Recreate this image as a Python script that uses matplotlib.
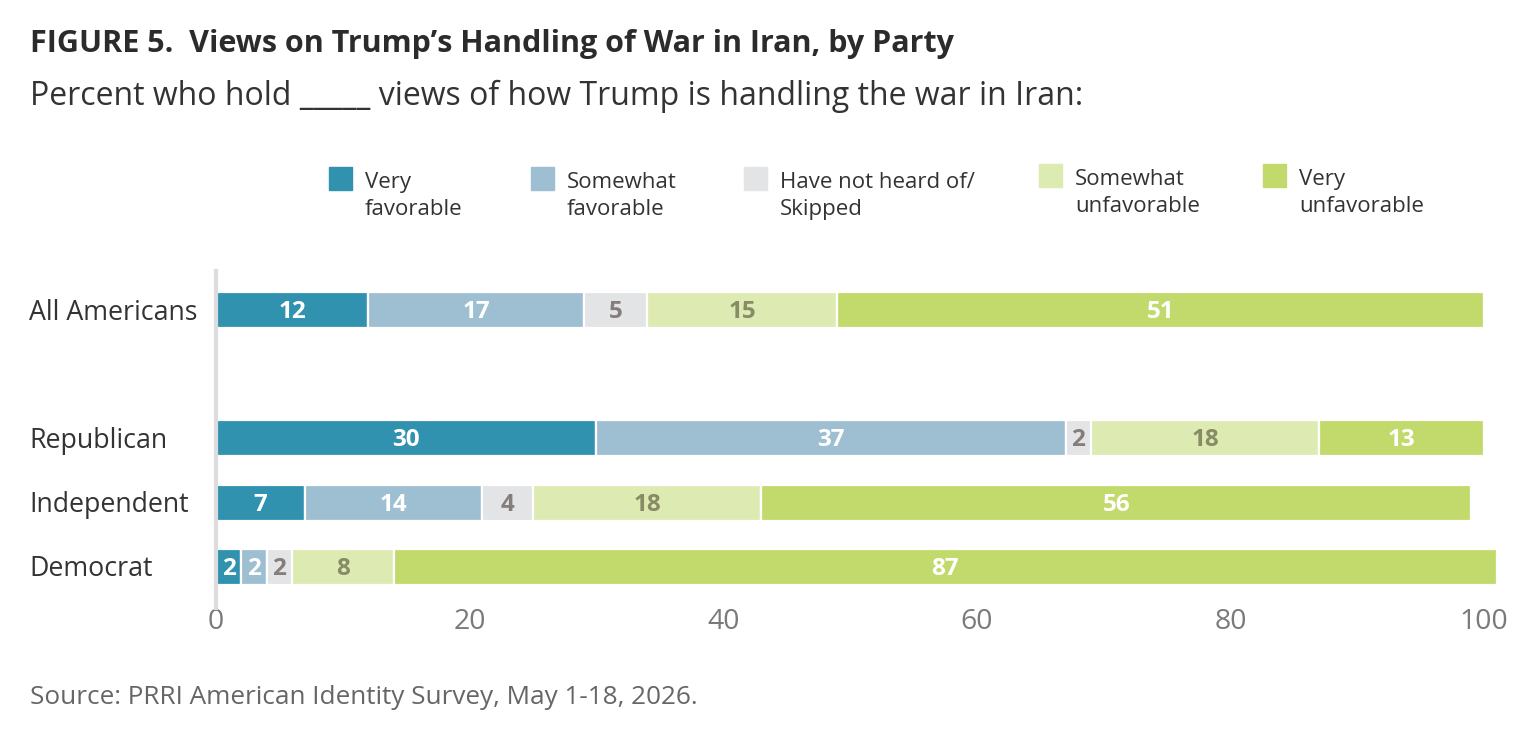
import numpy as np
import matplotlib
matplotlib.use("Agg")
import matplotlib.pyplot as plt
from matplotlib.patches import Rectangle
from matplotlib.transforms import blended_transform_factory

plt.rcParams['font.family'] = ['Open Sans', 'DejaVu Sans']

# data
groups = ['All Americans', 'Republican', 'Independent', 'Democrat']
ypos = [0, 2, 3, 4]
series = ['Very\nfavorable', 'Somewhat\nfavorable', 'Have not heard of/\nSkipped',
          'Somewhat\nunfavorable', 'Very\nunfavorable']
very_fav = [12, 30, 7, 2]
some_fav = [17, 37, 14, 2]
not_heard = [5, 2, 4, 2]
some_unfav = [15, 18, 18, 8]
very_unfav = [51, 13, 56, 87]
xticks = [0, 20, 40, 60, 80, 100]

colors = ['#3192b0', '#9ebfd1', '#e3e4e6', '#ddeab2', '#c2d96c']
txtcol = ['white', 'white', '#857d79', '#878b66', 'white']

W, H = 1536, 738
fig = plt.figure(figsize=(W / 100, H / 100), dpi=100)

# axes: x=0 at px 216, 12.68 px per unit
ppu = 12.68
x0 = 216
xmax = 102
ytop, ybot = 271.4, 608
ax = fig.add_axes([x0 / W, 1 - ybot / H, xmax * ppu / W, (ybot - ytop) / H])

vals = [very_fav, some_fav, not_heard, some_unfav, very_unfav]
left = np.zeros(len(groups))
for i, v in enumerate(vals):
    v = np.array(v)
    ax.barh(ypos, v, left=left, height=0.56, color=colors[i],
            edgecolor='white', linewidth=1.6, zorder=2)
    for y, l, w in zip(ypos, left, v):
        ax.text(l + w / 2, y + 0.03, str(w), ha='center', va='center',
                fontsize=17.5, fontweight='bold', color=txtcol[i], zorder=3)
    left += v

ax.set_xlim(0, xmax)
ax.set_ylim(4.64, -0.6)
ax.set_xticks(xticks)
ax.set_xticklabels([str(t) for t in xticks], fontsize=20.5, color='#7a7a7a')
ax.tick_params(axis='x', length=0, pad=0)
ax.set_yticks([])
for s in ['top', 'right', 'bottom']:
    ax.spines[s].set_visible(False)
ax.spines['left'].set_color('#dcdcdc')
ax.spines['left'].set_linewidth(3)

tr = blended_transform_factory(fig.transFigure, ax.transData)
for g, y in zip(groups, ypos):
    ax.text(29 / W, y + 0.04, g, transform=tr, ha='left', va='center',
            fontsize=19.3, color='#333333')

# title / subtitle
fig.text(30 / W, 1 - 44 / H, 'FIGURE 5.  Views on Trump\u2019s Handling of War in Iran, by Party',
         fontsize=22, fontweight='bold', color='#2b2b2b', va='center', ha='left')
fig.text(30 / W, 1 - 96 / H, 'Percent who hold _____ views of how Trump is handling the war in Iran:',
         fontsize=23, color='#333333', va='center', ha='left')

# legend
sq_x = [329, 531, 744, 1039, 1263]
sq_y = [167, 167, 167, 164, 164]
for i in range(5):
    fig.patches.append(Rectangle((sq_x[i] / W, 1 - (sq_y[i] + 23) / H), 23 / W, 23 / H,
                                 transform=fig.transFigure, color=colors[i]))
    for k, line in enumerate(series[i].split('\n')):
        fig.text((sq_x[i] + 36) / W, 1 - (sq_y[i] + 21 + 27 * k) / H, line, fontsize=16,
                 color='#333333', va='baseline', ha='left')

fig.text(30 / W, 1 - 697 / H, 'Source: PRRI American Identity Survey, May 1-18, 2026.',
         fontsize=18.8, color='#666666', va='center', ha='left')

fig.savefig('out.png', dpi=100)
